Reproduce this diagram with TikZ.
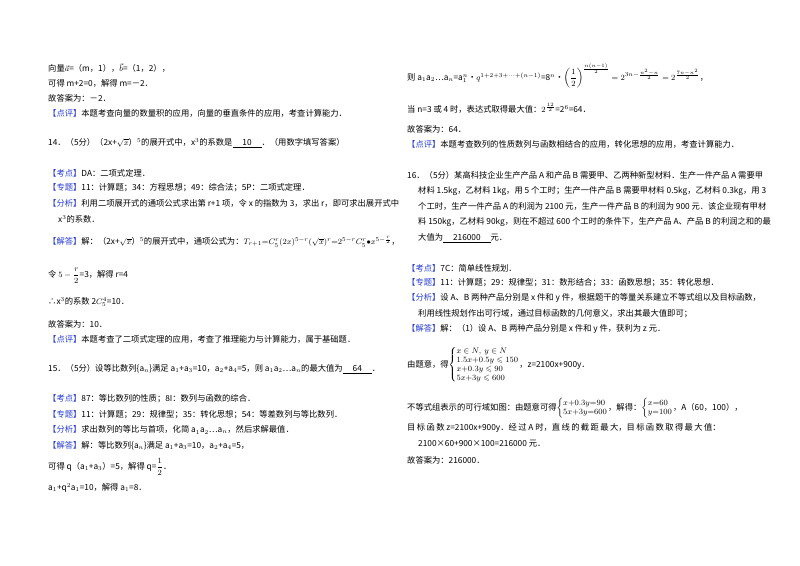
\documentclass[tikz,border=0pt]{standalone}
\usepackage{fontspec}
\usepackage{amsmath,amssymb}
\setmainfont{Noto Sans CJK SC}
\definecolor{kblue}{RGB}{40,60,210}
\newcommand{\kb}[1]{\textcolor{kblue}{【#1】}}
\newcommand{\ul}[1]{\underline{\hspace{1.2em}#1\hspace{1.2em}}}
\newcommand{\sys}[1]{$\left\{\renewcommand{\arraystretch}{0.9}\begin{array}{@{}l@{}}#1\end{array}\right.$}
\begin{document}
\begin{tikzpicture}[x=1pt,y=-1pt,txt/.style={anchor=west,inner sep=0pt,font=\fontsize{8.3}{10}\selectfont}]
\useasboundingbox (0,0) rectangle (800,565);
\fill[white] (0,0) rectangle (800,565);
% left column
\node[txt] (a1) at (48,68) {向量$\vec a$=（m，1），$\vec b$=（1，2），};
\node[txt] (a2) at (48,83) {可得 m+2=0，解得 m=－2．};
\node[txt] (a3) at (48,98) {故答案为：－2．};
\node[txt] (a4) at (48,113) {\kb{点评}本题考查向量的数量积的应用，向量的垂直条件的应用，考查计算能力．};
\node[txt] (a5) at (48,143) {14．（5分）（2x+$\sqrt{x}$）$^5$的展开式中，x$^3$的系数是\ul{10}．（用数字填写答案）};
\node[txt] (a6) at (48,173) {\kb{考点}DA：二项式定理．};
\node[txt] (a7) at (48,188) {\kb{专题}11：计算题；34：方程思想；49：综合法；5P：二项式定理．};
\node[txt] (a8) at (48,203) {\kb{分析}利用二项展开式的通项公式求出第 r+1 项，令 x 的指数为 3，求出 r，即可求出展开式中};
\node[txt] (a9) at (58,219) {x$^3$的系数．};
\node[txt] (a10) at (48,242) {\kb{解答}解：（2x+$\sqrt{x}$）$^5$的展开式中，通项公式为：$T_{r+1}{=}C_5^r(2x)^{5-r}(\sqrt{x})^r{=}2^{5-r}C_5^r{\bullet}x^{5-\frac{r}{2}}$，};
\node[txt] (a11) at (48,276) {令 $5-\dfrac{r}{2}$=3，解得 r=4};
\node[txt] (a12) at (48,302) {∴x$^3$的系数 2$C_5^4$=10．};
\node[txt] (a13) at (48,324) {故答案为：10．};
\node[txt] (a14) at (48,339) {\kb{点评}本题考查了二项式定理的应用，考查了推理能力与计算能力，属于基础题．};
\node[txt] (a15) at (48,369) {15．（5分）设等比数列\{a$_n$\}满足 a$_1$+a$_3$=10，a$_2$+a$_4$=5，则 a$_1$a$_2$…a$_n$的最大值为\ul{64}．};
\node[txt] (a16) at (48,399) {\kb{考点}87：等比数列的性质；8I：数列与函数的综合．};
\node[txt] (a17) at (48,415) {\kb{专题}11：计算题；29：规律型；35：转化思想；54：等差数列与等比数列．};
\node[txt] (a18) at (48,430) {\kb{分析}求出数列的等比与首项，化简 a$_1$a$_2$…a$_n$，然后求解最值．};
\node[txt] (a19) at (48,446) {\kb{解答}解：等比数列\{a$_n$\}满足 a$_1$+a$_3$=10，a$_2$+a$_4$=5，};
\node[txt] (a20) at (48,467) {可得 q（a$_1$+a$_3$）=5，解得 q=$\dfrac{1}{2}$．};
\node[txt] (a21) at (48,488) {a$_1$+q$^2$a$_1$=10，解得 a$_1$=8．};
% right column
\node[txt] (b1) at (407,76) {则 a$_1$a$_2$…a$_n$=a$_1^n${\textbullet}$q^{1+2+3+\cdots+(n-1)}$=8$^n${\textbullet}$\left(\dfrac12\right)^{\frac{n(n-1)}{2}}=2^{3n-\frac{n^2-n}{2}}=2^{\frac{7n-n^2}{2}}$，};
\node[txt] (b2) at (407,108) {当 n=3 或 4 时，表达式取得最大值：$2^{\frac{12}{2}}$=2$^6$=64．};
\node[txt] (b3) at (407,129) {故答案为：64．};
\node[txt] (b4) at (407,144) {\kb{点评}本题考查数列的性质数列与函数相结合的应用，转化思想的应用，考查计算能力．};
\node[txt] (b5) at (407,175) {16．（5分）某高科技企业生产产品 A 和产品 B 需要甲、乙两种新型材料．生产一件产品 A 需要甲};
\node[txt] (b6) at (418,191) {材料 1.5kg，乙材料 1kg，用 5 个工时；生产一件产品 B 需要甲材料 0.5kg，乙材料 0.3kg，用 3};
\node[txt] (b7) at (418,206) {个工时，生产一件产品 A 的利润为 2100 元，生产一件产品 B 的利润为 900 元．该企业现有甲材};
\node[txt] (b8) at (418,222) {料 150kg，乙材料 90kg，则在不超过 600 个工时的条件下，生产产品 A、产品 B 的利润之和的最};
\node[txt] (b9) at (418,238) {大值为\ul{216000}元．};
\node[txt] (b10) at (407,268) {\kb{考点}7C：简单线性规划．};
\node[txt] (b11) at (407,283) {\kb{专题}11：计算题；29：规律型；31：数形结合；33：函数思想；35：转化思想．};
\node[txt] (b12) at (407,298) {\kb{分析}设 A、B 两种产品分别是 x 件和 y 件，根据题干的等量关系建立不等式组以及目标函数，};
\node[txt] (b13) at (418,314) {利用线性规划作出可行域，通过目标函数的几何意义，求出其最大值即可；};
\node[txt] (b14) at (407,329) {\kb{解答}解：（1）设 A、B 两种产品分别是 x 件和 y 件，获利为 z 元．};
\node[txt] (b15) at (407,365) {由题意，得\sys{x\in N,\ y\in N\\1.5x{+}0.5y\leqslant150\\x{+}0.3y\leqslant90\\5x{+}3y\leqslant600}，z=2100x+900y．};
\node[txt] (b16) at (407,408) {不等式组表示的可行域如图：由题意可得\sys{x{+}0.3y{=}90\\5x{+}3y{=}600}，解得：\sys{x{=}60\\y{=}100}，A（60，100），};
\node[txt] (b17) at (407,428) {目\,标\,函\,数\ z=2100x+900y．经\,过\ A\ 时，直\,线\,的\,截\,距\,最\,大，目\,标\,函\,数\,取\,得\,最\,大\,值：};
\node[txt] (b18) at (418,444) {2100×60+900×100=216000 元．};
\node[txt] (b19) at (407,460) {故答案为：216000．};
\end{tikzpicture}
\end{document}
